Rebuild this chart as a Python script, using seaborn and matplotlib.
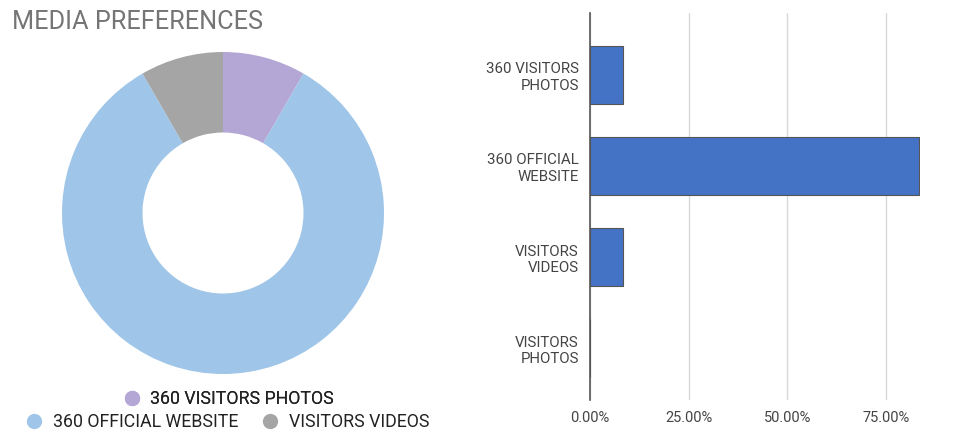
import matplotlib
matplotlib.use('Agg')
import matplotlib.pyplot as plt
import seaborn as sns
import pandas as pd
from matplotlib.lines import Line2D

sns.set_style('white')
plt.rcParams['font.family'] = ['Roboto', 'DejaVu Sans']

# donut data
pie_labels = ['360 VISITORS PHOTOS', '360 OFFICIAL WEBSITE', 'VISITORS VIDEOS']
pie_values = [8.33, 83.33, 8.33]
pie_colors = ['#b4a7d6', '#9fc5e8', '#a5a5a5']

# bar data
bar_labels = ['360 VISITORS\nPHOTOS', '360 OFFICIAL\nWEBSITE', 'VISITORS\nVIDEOS', 'VISITORS\nPHOTOS']
bar_values = [8.33, 83.33, 8.33, 0.0]
x_ticks = [0, 25, 50, 75]

df = pd.DataFrame({'media': bar_labels, 'share': bar_values})

fig = plt.figure(figsize=(9.74, 4.32), dpi=100)

# title
fig.text(12 / 974, 1 - 22 / 432, 'MEDIA PREFERENCES', fontsize=18.2,
         color='#757575', ha='left', va='center')

# donut
ax1 = fig.add_axes([62 / 974, 58 / 432, 322 / 974, 322 / 432])
ax1.pie(pie_values, colors=pie_colors, startangle=90, counterclock=False,
        radius=1, wedgeprops=dict(width=0.5, edgecolor='none'))
ax1.set_xlim(-1, 1)
ax1.set_ylim(-1, 1)
ax1.set_aspect('equal')
ax1.axis('off')

handles = [Line2D([0], [0], marker='o', linestyle='', markersize=11,
                  markerfacecolor=c, markeredgecolor='none') for c in pie_colors]
leg1 = fig.legend(handles[:1], pie_labels[:1], loc='center',
                  bbox_to_anchor=(224 / 974, 1 - 399 / 432), frameon=False,
                  fontsize=12.8, handletextpad=0.05, labelcolor='#222222')
leg2 = fig.legend(handles[1:], pie_labels[1:], loc='center', ncol=2,
                  bbox_to_anchor=(223 / 974, 1 - 422 / 432), frameon=False,
                  fontsize=12.8, handletextpad=0.05, columnspacing=0.8,
                  labelcolor='#222222')
fig.add_artist(leg1)

# bar chart
ax2 = fig.add_axes([590 / 974, 32 / 432, 330 / 974, 387 / 432])
sns.barplot(data=df, y='media', x='share', orient='h', color='#4472c4',
            width=0.64, edgecolor='#555555', linewidth=0.8, saturation=1,
            ax=ax2, zorder=3)
ax2.set_xlim(0, 83.6)
ax2.set_ylim(3.57, -0.68)
ax2.set_xticks(x_ticks)
ax2.set_xticklabels([f'{v:.2f}%' for v in x_ticks])
ax2.grid(axis='x', color='#d9d9d9', linewidth=1, zorder=0)
ax2.set_xlabel('')
ax2.set_ylabel('')
for s in ['top', 'right', 'bottom']:
    ax2.spines[s].set_visible(False)
ax2.spines['left'].set_color('#555555')
ax2.spines['left'].set_linewidth(1.2)
ax2.spines['left'].set_zorder(4)
ax2.tick_params(axis='both', length=0, labelcolor='#444444')
ax2.tick_params(axis='y', pad=8, labelsize=10.8)
ax2.tick_params(axis='x', pad=8, labelsize=10.5)
ax2.set_yticks(range(len(bar_labels)))
ax2.set_yticklabels(bar_labels, ha='right', multialignment='right')

fig.savefig('out.png', dpi=100)
